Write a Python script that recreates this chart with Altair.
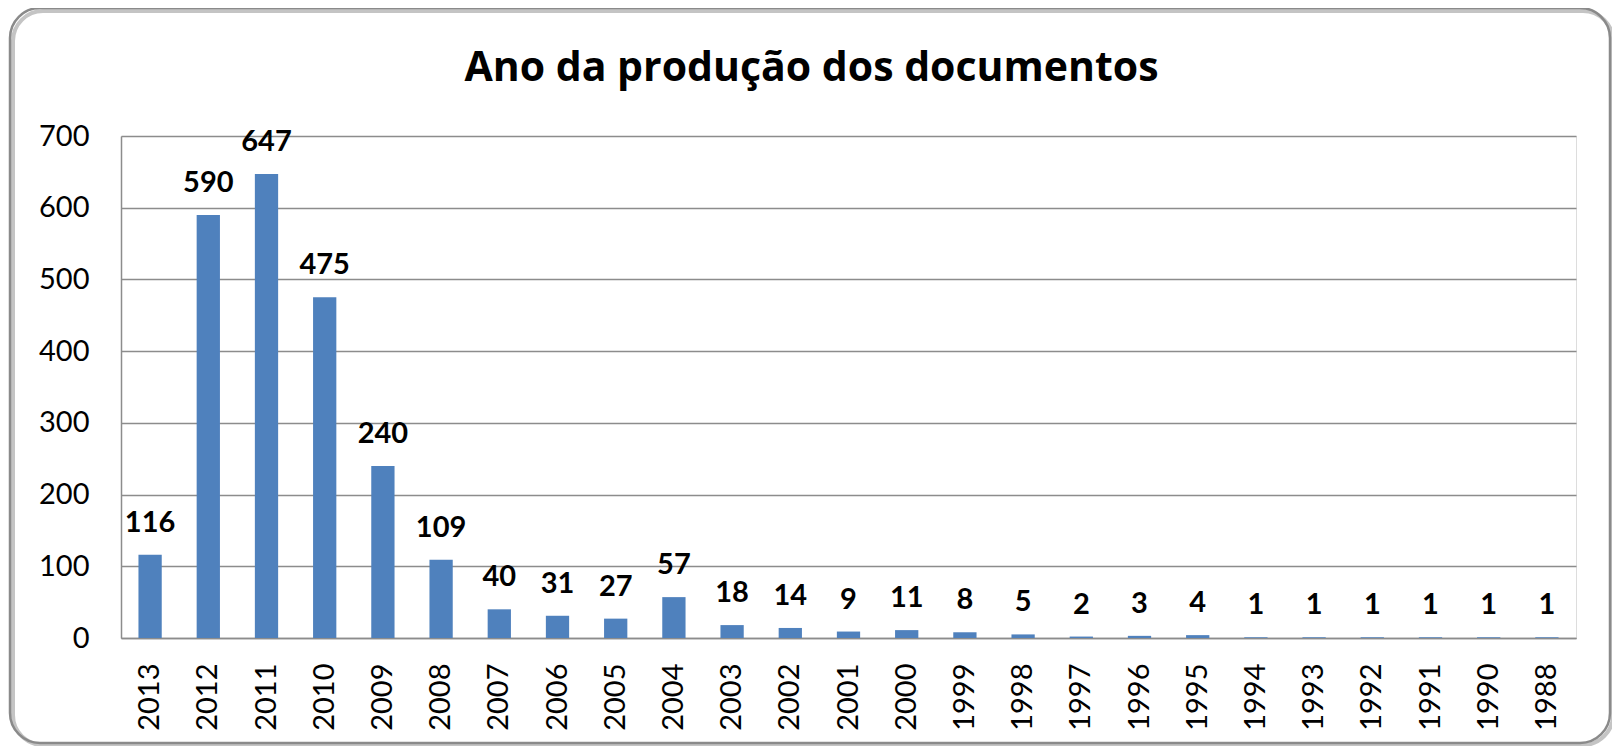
import altair as alt
import pandas as pd

years = ["2013", "2012", "2011", "2010", "2009", "2008", "2007", "2006", "2005",
         "2004", "2003", "2002", "2001", "2000", "1999", "1998", "1997", "1996",
         "1995", "1994", "1993", "1992", "1991", "1990", "1988"]
counts = [116, 590, 647, 475, 240, 109, 40, 31, 27, 57, 18, 14, 9, 11, 8, 5,
          2, 3, 4, 1, 1, 1, 1, 1, 1]
y_ticks = [0, 100, 200, 300, 400, 500, 600, 700]
title_text = "Ano da produção dos documentos"

df = pd.DataFrame({"ano": years, "n": counts})
frame_df = pd.DataFrame({"k": [0]})

FONT = "Lato"
GRID = "#8c8c8c"

x_enc = alt.X("ano:N", sort=years, title=None,
              scale=alt.Scale(paddingInner=0.6, paddingOuter=0.3),
              axis=alt.Axis(labelAngle=-90, labelPadding=25, ticks=False,
                            labelFont=FONT, labelFontSize=29, labelColor="#000",
                            domainColor=GRID, domainWidth=1.5, labelOverlap=False))
y_enc = alt.Y("n:Q", title=None,
              scale=alt.Scale(domain=[0, 700], nice=False),
              axis=alt.Axis(values=y_ticks, ticks=False, labelPadding=32,
                            labelFont=FONT, labelFontSize=29, labelColor="#000",
                            grid=True, gridColor=GRID, gridWidth=1.5,
                            domainColor=GRID, domainWidth=1.5))

shadow = alt.Chart(frame_df).mark_rect(
    filled=False, stroke="#c4c4c4", strokeWidth=4, cornerRadius=30
).encode(x=alt.value(-108), x2=alt.value(1492), y=alt.value(-125), y2=alt.value(609))

frame = alt.Chart(frame_df).mark_rect(
    filled=False, stroke="#8a8a8a", strokeWidth=2.5, cornerRadius=30
).encode(x=alt.value(-111), x2=alt.value(1489), y=alt.value(-128), y2=alt.value(607))

bars = alt.Chart(df).mark_bar(color="#4F81BD").encode(x=x_enc, y=y_enc)

labels = alt.Chart(df).mark_text(
    font=FONT, fontSize=29, fontWeight="bold", color="#000",
    baseline="alphabetic", dy=-23
).encode(x=alt.X("ano:N", sort=years), y="n:Q", text="n:Q")

chart = alt.layer(shadow, frame, bars, labels).properties(
    width=1455, height=502,
    autosize=alt.AutoSizeParams(type="none"),
    padding={"left": 113, "top": 128, "right": 36, "bottom": 108},
    title=alt.TitleParams(title_text, font="Open Sans", fontSize=41, fontWeight="bold",
                          color="#000", anchor="middle", frame="group",
                          offset=-83, dx=-37),
).configure_view(stroke=None).configure(background="white")

chart.save("out.html", embed_options={"renderer": "svg", "actions": False})
